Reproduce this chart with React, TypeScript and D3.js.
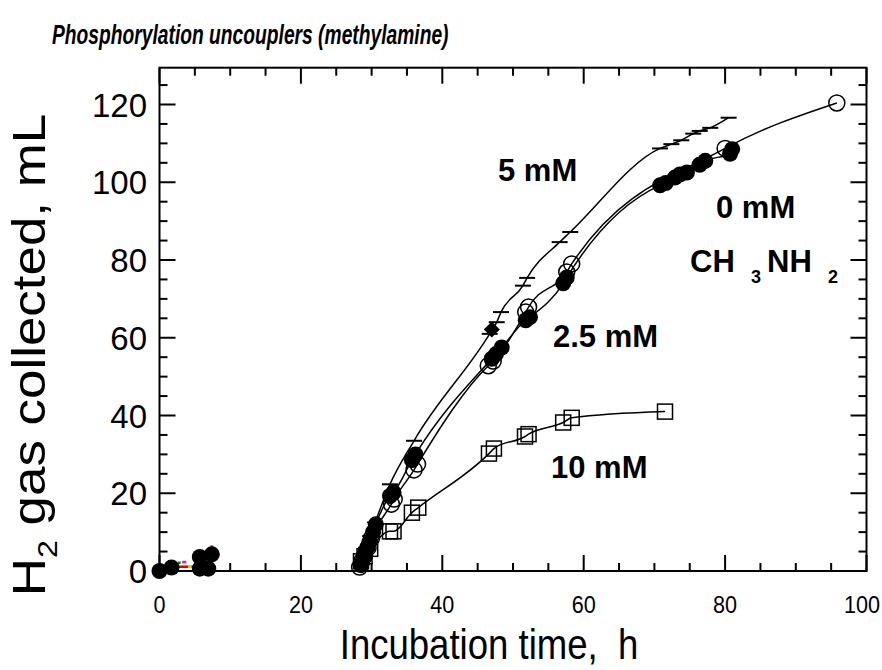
import React from "react";
import * as d3 from "d3";

// ---- data (hours, mL) ----
const openCircles: [number, number][] = [
  [28.3, 1], [28.6, 2.5], [29, 4], [29.5, 6], [30, 8.5], [32.8, 17.2], [33.2, 18.5],
  [36, 26], [36.5, 27.5], [46.5, 52.8], [47.2, 54], [51.8, 66.6], [52.2, 67.9],
  [57.6, 76.9], [58.3, 79], [80, 108.7], [95.8, 120.4],
];
const filledCircles: [number, number][] = [
  [28.5, 1.5], [28.8, 3], [29.1, 4.5], [29.4, 6], [29.7, 7.5], [30.2, 10], [30.6, 12],
  [32.6, 19.3], [33.1, 20.2], [35.7, 28.5], [36.2, 30], [47, 54.6], [47.6, 55.8],
  [48.4, 57.5], [51.8, 64.5], [52.4, 65.3], [57.1, 74], [57.6, 75.5],
  [70.8, 99.2], [71.6, 99.8], [72.9, 101.2], [73.6, 102], [74.6, 102.5], [76.4, 104.5],
  [77.2, 105.5], [80.7, 107.3], [81, 108.5],
];
const filledEarly: [number, number][] = [
  [0, 0], [1.7, 0.9], [5.7, 0.6], [6.9, 0.6], [5.7, 3.6], [7.4, 4.3],
];
const dashes5: [number, number][] = [
  [28.6, 3], [29.2, 6], [29.8, 9], [30.5, 12.5], [32.6, 22.3], [36, 33.5],
  [46.7, 61], [47.7, 64], [48.3, 66.6], [51.4, 73.4], [52, 75.4], [56.6, 84.6],
  [58.1, 87.2], [70.8, 108.7], [72.4, 109.8], [73.8, 110.8], [75.5, 112.5],
  [76.4, 113.2], [77.9, 114], [80.5, 116.6],
];
const diamonds: [number, number][] = [[47, 62.1]];
const squares10: [number, number][] = [
  [28.5, 2.5], [29, 3.8], [29.8, 5.7], [32.6, 10.2], [33.1, 10.2], [35.7, 15],
  [36.6, 16.3], [46.6, 30.2], [47.3, 31.5], [51.7, 34.6], [52.2, 35.2],
  [57.1, 38.2], [58.3, 39.4], [71.5, 41],
];
const colorMarks: { x: number; y: number; w: number; c: string }[] = [
  { x: 3.6, y: 1.1, w: 2.2, c: "#e00000" },
  { x: 4.3, y: 1.1, w: 0.5, c: "#f0d000" },
  { x: 2.8, y: 2.1, w: 0.4, c: "#008000" },
  { x: 3.5, y: 2.3, w: 0.6, c: "#e0208a" },
  { x: 7.4, y: 6.3, w: 0.4, c: "#e0208a" },
];

const xTicksMajor = [0, 20, 40, 60, 80, 100];
const yTicksMajor = [0, 20, 40, 60, 80, 100, 120];

const W = 882, H = 670;
const LEFT = 159.5, RIGHT = 866.5, TOP = 67.7, BOTTOM = 571;

export default function App() {
  const x = d3.scaleLinear().domain([0, 100]).range([LEFT, RIGHT]);
  const y = d3.scaleLinear().domain([0, 120]).range([BOTTOM, 104.5]);

  const xMinor = d3.range(0, 101, 5).filter((v) => v % 20 !== 0);
  const yMinorMax = y.invert(TOP);
  const yMinor = d3.range(0, yMinorMax, 5).filter((v) => v % 20 !== 0);

  const line = d3
    .line<[number, number]>()
    .x((d) => x(d[0]))
    .y((d) => y(d[1]))
    .curve(d3.curveMonotoneX);

  const sortU = (arr: [number, number][]) => {
    const s = [...arr].sort((a, b) => a[0] - b[0]);
    const out: [number, number][] = [];
    s.forEach((p) => {
      if (!out.length || p[0] - out[out.length - 1][0] > 0.05) out.push(p);
    });
    return out;
  };

  const font = "'Liberation Sans', Arial, Helvetica, sans-serif";
  const MAJ = 16, MIN = 8;

  return (
    <svg width={W} height={H} style={{ position: "absolute", left: 0, top: 0 }} fontFamily={font}>
      <rect width={W} height={H} fill="#fff" />
      <text transform="translate(52,44) scale(0.7,1)" fontSize={27.5} fontWeight="bold" fontStyle="italic">
        Phosphorylation uncouplers (methylamine)
      </text>

      {/* curves */}
      <g fill="none" stroke="#000" strokeWidth={1.5}>
        <path d={line(sortU(openCircles)) || ""} />
        <path d={line(sortU(filledCircles)) || ""} />
        <path d={line(sortU(dashes5)) || ""} />
        <path d={line(sortU(squares10)) || ""} />
      </g>

      {/* colored marks */}
      {colorMarks.map((m, i) => (
        <line key={"c" + i} x1={x(m.x - m.w / 2)} x2={x(m.x + m.w / 2)} y1={y(m.y)} y2={y(m.y)} stroke={m.c} strokeWidth={2.5} />
      ))}

      {/* markers */}
      {squares10.map((d, i) => (
        <rect key={"s" + i} x={x(d[0]) - 7.5} y={y(d[1]) - 7.5} width={15} height={15} fill="none" stroke="#000" strokeWidth={1.5} />
      ))}
      {openCircles.map((d, i) => (
        <circle key={"o" + i} cx={x(d[0])} cy={y(d[1])} r={8} fill="none" stroke="#000" strokeWidth={1.5} />
      ))}
      {filledCircles.concat(filledEarly).map((d, i) => (
        <circle key={"f" + i} cx={x(d[0])} cy={y(d[1])} r={8} fill="#000" />
      ))}
      {dashes5.map((d, i) => (
        <line key={"d" + i} x1={x(d[0]) - 8} x2={x(d[0]) + 8} y1={y(d[1])} y2={y(d[1])} stroke="#000" strokeWidth={2} />
      ))}
      {diamonds.map((d, i) => (
        <path key={"m" + i} d={`M${x(d[0])},${y(d[1]) - 8}L${x(d[0]) + 8},${y(d[1])}L${x(d[0])},${y(d[1]) + 8}L${x(d[0]) - 8},${y(d[1])}Z`} fill="#000" />
      ))}

      {/* frame */}
      <rect x={LEFT} y={TOP} width={RIGHT - LEFT} height={BOTTOM - TOP} fill="none" stroke="#000" strokeWidth={2} />
      <g stroke="#000" strokeWidth={2}>
        {xTicksMajor.map((t) => (
          <g key={"xt" + t}>
            <line x1={x(t)} x2={x(t)} y1={BOTTOM} y2={BOTTOM - MAJ} />
            <line x1={x(t)} x2={x(t)} y1={TOP} y2={TOP + MAJ} />
          </g>
        ))}
        {xMinor.map((t) => (
          <g key={"xm" + t}>
            <line x1={x(t)} x2={x(t)} y1={BOTTOM} y2={BOTTOM - MIN} />
            <line x1={x(t)} x2={x(t)} y1={TOP} y2={TOP + MIN} />
          </g>
        ))}
        {yTicksMajor.map((t) => (
          <g key={"yt" + t}>
            <line x1={LEFT} x2={LEFT + MAJ} y1={y(t)} y2={y(t)} />
            <line x1={RIGHT} x2={RIGHT - MAJ} y1={y(t)} y2={y(t)} />
          </g>
        ))}
        {yMinor.map((t) => (
          <g key={"ym" + t}>
            <line x1={LEFT} x2={LEFT + MIN} y1={y(t)} y2={y(t)} />
            <line x1={RIGHT} x2={RIGHT - MIN} y1={y(t)} y2={y(t)} />
          </g>
        ))}
      </g>

      {/* tick labels */}
      {xTicksMajor.map((t) => (
        <text
          key={"xl" + t}
          transform={`translate(${Math.min(x(t), W - 20)},613) scale(0.9,1)`}
          fontSize={24}
          textAnchor="middle"
        >
          {t}
        </text>
      ))}
      {yTicksMajor.map((t) => (
        <text key={"yl" + t} x={147} y={y(t) + 12} fontSize={33} textAnchor="end">
          {t}
        </text>
      ))}

      {/* axis titles */}
      <text transform="translate(489,659) scale(0.87,1)" fontSize={42} textAnchor="middle">
        Incubation time,{"\u00a0\u00a0"}h
      </text>
      <text transform="translate(45,355) rotate(-90) scale(1.15,1)" fontSize={46} textAnchor="middle">
        H<tspan fontSize={28} dy={12}>2</tspan>
        <tspan dy={-12}> gas collected, mL</tspan>
      </text>

      {/* annotations */}
      <g fontWeight="bold" fontSize={31}>
        <text x={498} y={181}>5 mM</text>
        <text x={716} y={218}>0 mM</text>
        <text x={690} y={272}>CH</text>
        <text x={751} y={283} fontSize={18}>3</text>
        <text x={767} y={272}>NH</text>
        <text x={828} y={283} fontSize={18}>2</text>
        <text x={553} y={347}>2.5 mM</text>
        <text x={551} y={478}>10 mM</text>
      </g>
    </svg>
  );
}
